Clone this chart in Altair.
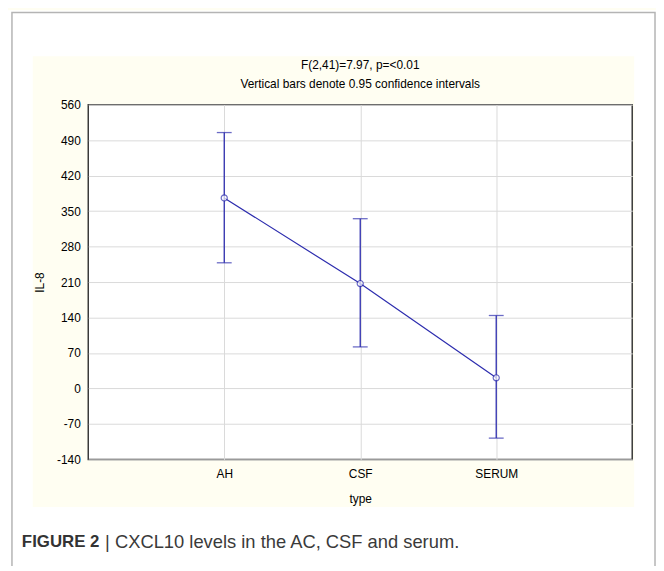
import altair as alt
import pandas as pd

# ---- data ----
types = ["AH", "CSF", "SERUM"]
means = [376, 207, 21]
lower = [248, 82, -98]
upper = [505, 335, 144]
y_ticks = [-140, -70, 0, 70, 140, 210, 280, 350, 420, 490, 560]

title_lines = ["F(2,41)=7.97, p=<0.01", "Vertical bars denote 0.95 confidence intervals"]
caption_bold = "FIGURE 2"
caption_rest = "| CXCL10 levels in the AC, CSF and serum."

df = pd.DataFrame({"type": types, "mean": means, "lower": lower, "upper": upper})

W, H = 549, 358
BLUE = "#2c2cae"
FONT = "Liberation Sans"

xaxis = alt.Axis(title="type", labelAngle=0, titleX=W / 2, titleY=40,
                 titleBaseline="middle", labelPadding=9)
xscale = alt.Scale(type="point", padding=1)
yscale = alt.Scale(domain=[-140, 560], nice=False, zero=False)
yaxis = alt.Axis(title="IL-8", values=y_ticks, labelOverlap=False, labelExpr="'' + datum.value",
                 titleAngle=270, titleX=-49, titleY=H / 2,
                 titleBaseline="middle", labelPadding=8)


def X():
    return alt.X("type:N", sort=types, scale=xscale, axis=xaxis)


def Y(field):
    return alt.Y(field, type="quantitative", scale=yscale, axis=yaxis)


base = alt.Chart(df)

line = base.mark_line(color=BLUE, strokeWidth=1.2).encode(x=X(), y=Y("mean"))
rule = base.mark_rule(color=BLUE, strokeWidth=1.3).encode(x=X(), y=Y("lower"), y2="upper")
cap_hi = base.mark_tick(color=BLUE, size=15, thickness=1.3, orient="horizontal").encode(
    x=X(), y=Y("upper"))
cap_lo = base.mark_tick(color=BLUE, size=15, thickness=1.3, orient="horizontal").encode(
    x=X(), y=Y("lower"))
pts = base.mark_point(color=BLUE, filled=False, size=38, strokeWidth=1.2, fill="white").encode(
    x=X(), y=Y("mean"))

one = alt.Data(values=[{"a": 1}])


def band(x, x2, y, y2):
    return alt.Chart(one).mark_rect(color="white").encode(
        x=alt.value(x), x2=alt.value(x2), y=alt.value(y), y2=alt.value(y2))


bands = [
    band(-81, -56, -95, 470),
    band(551, 580, -95, 470),
    band(-81, 580, -95, -49),
    band(-81, 580, 406, 470),
]

border = alt.Chart(one).mark_rect(fill=None, fillOpacity=0, stroke="#b4b4b4", strokeWidth=1.5).encode(
    x=alt.value(-77), x2=alt.value(572), y=alt.value(-93), y2=alt.value(520))

t1 = alt.Chart(one).mark_text(text=title_lines[0], font=FONT, fontSize=12, color="black",
                              baseline="middle").encode(x=alt.value(W / 2), y=alt.value(-40))
t2 = alt.Chart(one).mark_text(text=title_lines[1], font=FONT, fontSize=12, color="black",
                              baseline="middle").encode(x=alt.value(W / 2), y=alt.value(-21))

cap1 = alt.Chart(one).mark_text(text=caption_bold, font=FONT, fontSize=17, fontWeight="bold",
                                color="#333333", align="left", baseline="middle").encode(
    x=alt.value(-67), y=alt.value(441))
cap2 = alt.Chart(one).mark_text(text=caption_rest, font=FONT, fontSize=18.5,
                                color="#3a3a3a", align="left", baseline="middle").encode(
    x=alt.value(17), y=alt.value(441))

chart = alt.layer(line, rule, cap_hi, cap_lo, pts, *bands, border, t1, t2, cap1, cap2).properties(
    width=W, height=H,
    autosize=alt.AutoSizeParams(type="none"),
    padding={"left": 81, "top": 95, "right": 24, "bottom": 105},
    background="#fffef2",
).configure_view(
    fill="white", stroke="#3a3a3a", strokeWidth=1.5
).configure_axis(
    labelFont=FONT, labelFontSize=12, labelColor="black",
    titleFont=FONT, titleFontSize=12, titleColor="black", titleFontWeight="normal",
    domain=False, ticks=False, grid=True, gridColor="#dadada", gridWidth=1,
)

chart.save("out.html", embed_options={"renderer": "svg", "actions": False})
